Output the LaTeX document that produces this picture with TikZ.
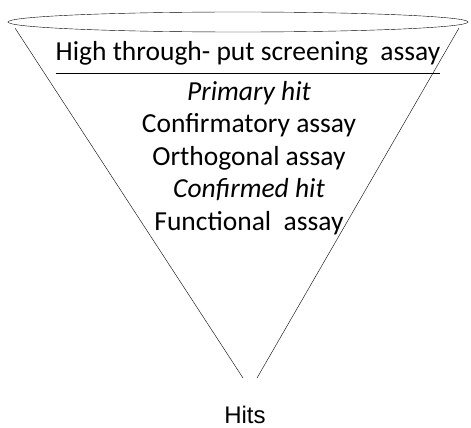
\documentclass[tikz,border=0pt]{standalone}
\usepackage{fontspec}
\setmainfont{Carlito}
\newfontfamily\hitsfont{Liberation Sans}
\usetikzlibrary{shapes.geometric}
\begin{document}
\begin{tikzpicture}[x=1pt, y=-1pt, stage/.style={anchor=base, inner sep=0pt, font=\fontsize{27.5}{27.5}\selectfont}]
                \useasboundingbox (0, 0) rectangle (471, 428);
                \node [draw, ellipse, minimum width=460, minimum height=20, inner sep=0pt] (rim) at (238, 22) {};
                \coordinate (rimL) at (15, 28);
                \coordinate (rimR) at (459, 28);
                \coordinate (tipL) at (243, 378);
                \coordinate (tipR) at (257, 378);
                \draw (rimL) -- (tipL);
                \draw (rimR) -- (tipR);
                \node [stage] (hts) at (248, 60) {High through- put screening\ \ assay};
                \draw ([yshift=-13]hts.base west) -- ([yshift=-13]hts.base east);
                \node [stage] (prim) at (249, 100) {\itshape Primary hit};
                \node [stage] (conf) at (249, 132.5) {Confirmatory assay};
                \node [stage] (orth) at (249, 165) {Orthogonal assay};
                \node [stage] (cfd) at (249, 197.5) {\itshape Confirmed hit};
                \node [stage] (func) at (249, 230) {Functional\ \ assay};
                \node [anchor=base, inner sep=0pt, font=\hitsfont\fontsize{24}{24}\selectfont] (hits) at (245, 423) {Hits};
            \end{tikzpicture}
\end{document}
